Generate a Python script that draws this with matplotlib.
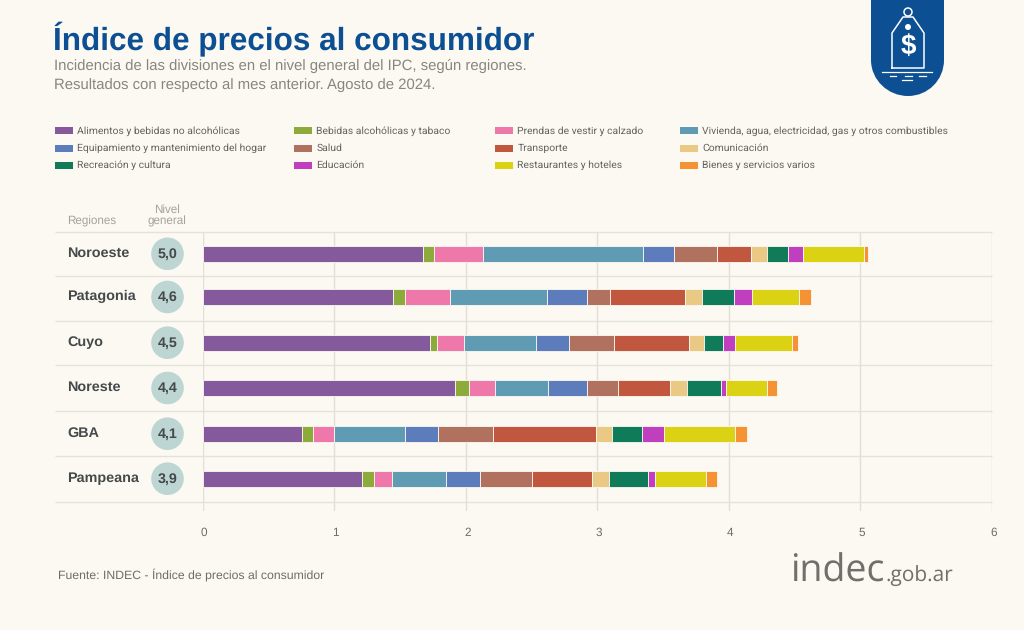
import matplotlib
matplotlib.use('Agg')
import matplotlib.pyplot as plt
from matplotlib.patches import Rectangle, Circle, PathPatch
from matplotlib.path import Path
from matplotlib.transforms import ScaledTranslation

plt.rcParams['text.hinting'] = 'no_hinting'

# datos, incidencia en puntos porcentuales
regiones = ['Noroeste', 'Patagonia', 'Cuyo', 'Noreste', 'GBA', 'Pampeana']
nivel_general = ['5,0', '4,6', '4,5', '4,4', '4,1', '3,9']

alimentos = [1.676, 1.446, 1.727, 1.917, 0.757, 1.208]
bebidas = [0.081, 0.091, 0.051, 0.109, 0.081, 0.091]
prendas = [0.370, 0.340, 0.210, 0.193, 0.160, 0.139]
vivienda = [1.218, 0.739, 0.547, 0.407, 0.540, 0.408]
equipamiento = [0.241, 0.302, 0.251, 0.292, 0.253, 0.263]
salud = [0.321, 0.179, 0.342, 0.240, 0.418, 0.391]
transporte = [0.258, 0.570, 0.568, 0.398, 0.780, 0.458]
comunicacion = [0.122, 0.129, 0.112, 0.122, 0.119, 0.131]
recreacion = [0.160, 0.241, 0.149, 0.261, 0.230, 0.296]
educacion = [0.119, 0.137, 0.091, 0.040, 0.169, 0.053]
restaurantes = [0.460, 0.359, 0.429, 0.309, 0.540, 0.388]
bienes = [0.028, 0.094, 0.050, 0.078, 0.089, 0.081]

series = [alimentos, bebidas, prendas, vivienda, equipamiento, salud,
          transporte, comunicacion, recreacion, educacion, restaurantes, bienes]
colores = ['#845a9c', '#8cab3a', '#ee78aa', '#5f9cb3', '#5c7cbc', '#b0725e',
           '#c1573f', '#e9c983', '#0f7b58', '#c03fbf', '#dcd214', '#f59233']
etiquetas = ['Alimentos y bebidas no alcohólicas', 'Bebidas alcohólicas y tabaco',
             'Prendas de vestir y calzado',
             'Vivienda, agua, electricidad, gas y otros combustibles',
             'Equipamiento y mantenimiento del hogar', 'Salud', 'Transporte', 'Comunicación',
             'Recreación y cultura', 'Educación', 'Restaurantes y hoteles',
             'Bienes y servicios varios']
xticks = [0, 1, 2, 3, 4, 5, 6]

# layout en pixeles de la imagen
centros_y = [253.8, 297, 342.7, 388, 433.7, 478.7]
lineas_y = [232, 275.5, 320.5, 364.5, 410.5, 455.5, 502]
fondo = '#fcf9f3'
sans = ['Liberation Sans', 'DejaVu Sans']
leyenda = ['Roboto', 'Liberation Sans', 'DejaVu Sans']
logo = ['Open Sans', 'DejaVu Sans']

fig = plt.figure(figsize=(10.24, 6.30), dpi=100, facecolor=fondo)

# capa general con coordenadas en pixeles
bg = fig.add_axes([0, 0, 1, 1], zorder=0)
bg.set_xlim(0, 1024)
bg.set_ylim(630, 0)
bg.axis('off')

# grafico de barras
ax = fig.add_axes([202.7 / 1024, (630 - 511) / 630, (992 - 202.7) / 1024, (511 - 232) / 630], zorder=1)
ax.patch.set_alpha(0)
ax.set_xlim(0, 6)
ax.set_ylim(511, 232)
for s in ax.spines.values():
    s.set_visible(False)
ax.set_yticks([])
ax.set_xticks(xticks)
ax.tick_params(length=0, pad=12, labelsize=8.5, labelcolor='#6d6d68')
corrimiento = ScaledTranslation(1.5 / 100, 0, fig.dpi_scale_trans)
for t in ax.get_xticklabels():
    t.set_family(sans)
    t.set_transform(t.get_transform() + corrimiento)
ax.set_axisbelow(True)
ax.xaxis.grid(True, color='#e2dfd9', lw=1.0)

izq = [0] * len(regiones)
for valores, color in zip(series, colores):
    ax.barh(centros_y, valores, left=izq, height=15.6, color=color, edgecolor=fondo, linewidth=0.6)
    izq = [a + b for a, b in zip(izq, valores)]

# lineas horizontales y columnas de la izquierda
bg.hlines(lineas_y, 55, 992, color='#e5e2dc', lw=1.0)
for y, region, nivel in zip(centros_y, regiones, nivel_general):
    bg.text(67, y + 3.3, region, family=sans, fontsize=10.4, fontweight='bold', color='#45494a', va='baseline')
    bg.add_patch(Circle((167.5, y), 16.3, color='#bdd5d3', lw=0))
    bg.text(167.5, y + 0.5, nivel, family=sans, fontsize=10.3, fontweight='bold', color='#45494a',
            va='center', ha='center')
bg.text(67, 225, 'Regiones', family=sans, fontsize=8.4, color='#a3a29c', va='baseline')
bg.text(167, 213, 'Nivel', family=sans, fontsize=8.4, color='#a3a29c', va='baseline', ha='center')
bg.text(167, 225, 'general', family=sans, fontsize=8.4, color='#a3a29c', va='baseline', ha='center')

# titulo
bg.text(53, 50, 'Índice de precios al consumidor', family=sans, fontsize=22.7, fontweight='bold',
        color='#0c4f93', va='baseline')
bg.text(54, 70, 'Incidencia de las divisiones en el nivel general del IPC, según regiones.',
        family=sans, fontsize=10.7, color='#86867f', va='baseline')
bg.text(54, 89, 'Resultados con respecto al mes anterior. Agosto de 2024.',
        family=sans, fontsize=10.7, color='#86867f', va='baseline')

# leyenda en cuatro columnas
col_x = [55, 294, 495, 680]
fila_y = [130.7, 148, 165.3]
for i, (etq, color) in enumerate(zip(etiquetas, colores)):
    x = col_x[i % 4]
    y = fila_y[i // 4]
    bg.add_patch(Rectangle((x, y - 3.5), 18, 7, color=color, lw=0))
    bg.text(x + 22.3, y + 2.9, etq, family=leyenda, fontsize=7.5, color='#63635f', va='baseline')

bg.text(58, 575, 'Fuente: INDEC - Índice de precios al consumidor', family=sans, fontsize=8.8,
        color='#6d6d68', va='center')

# logo indec
bg.text(790, 582, 'indec', family=logo, fontsize=27, color='#6f6f6b', va='baseline')
bg.text(885, 582, '.gob.ar', family=logo, fontsize=15, color='#6f6f6b', va='baseline')

# escudo con etiqueta de precio
azul = '#0c4f93'
verts = [(871, 0), (944, 0), (944, 60), (944, 80), (928, 96), (908, 96), (888, 96), (871, 80), (871, 60), (871, 0)]
codes = [Path.MOVETO, Path.LINETO, Path.LINETO, Path.CURVE4, Path.CURVE4, Path.CURVE4,
         Path.CURVE4, Path.CURVE4, Path.CURVE4, Path.CLOSEPOLY]
bg.add_patch(PathPatch(Path(verts, codes), facecolor=azul, lw=0))
tag = [(892, 68), (892, 33), (903, 17), (913, 17), (924, 33), (924, 68), (892, 68)]
bg.plot(*zip(*tag), color='white', lw=1.1, solid_joinstyle='round')
bg.add_patch(Circle((908, 12), 4, fill=False, ec='white', lw=1.1))
bg.add_patch(Circle((908, 27), 3, color='white', lw=0))
bg.text(908, 47, '$', family=sans, fontsize=20, fontweight='bold', color='white', ha='center', va='center')
for x0, x1, y in [(882, 932, 72), (890, 896, 76), (905, 912, 76), (919, 926, 76), (902, 912, 80)]:
    bg.plot([x0, x1], [y, y], color='white', lw=0.9)

fig.savefig('out.png', dpi=100, facecolor=fondo)
